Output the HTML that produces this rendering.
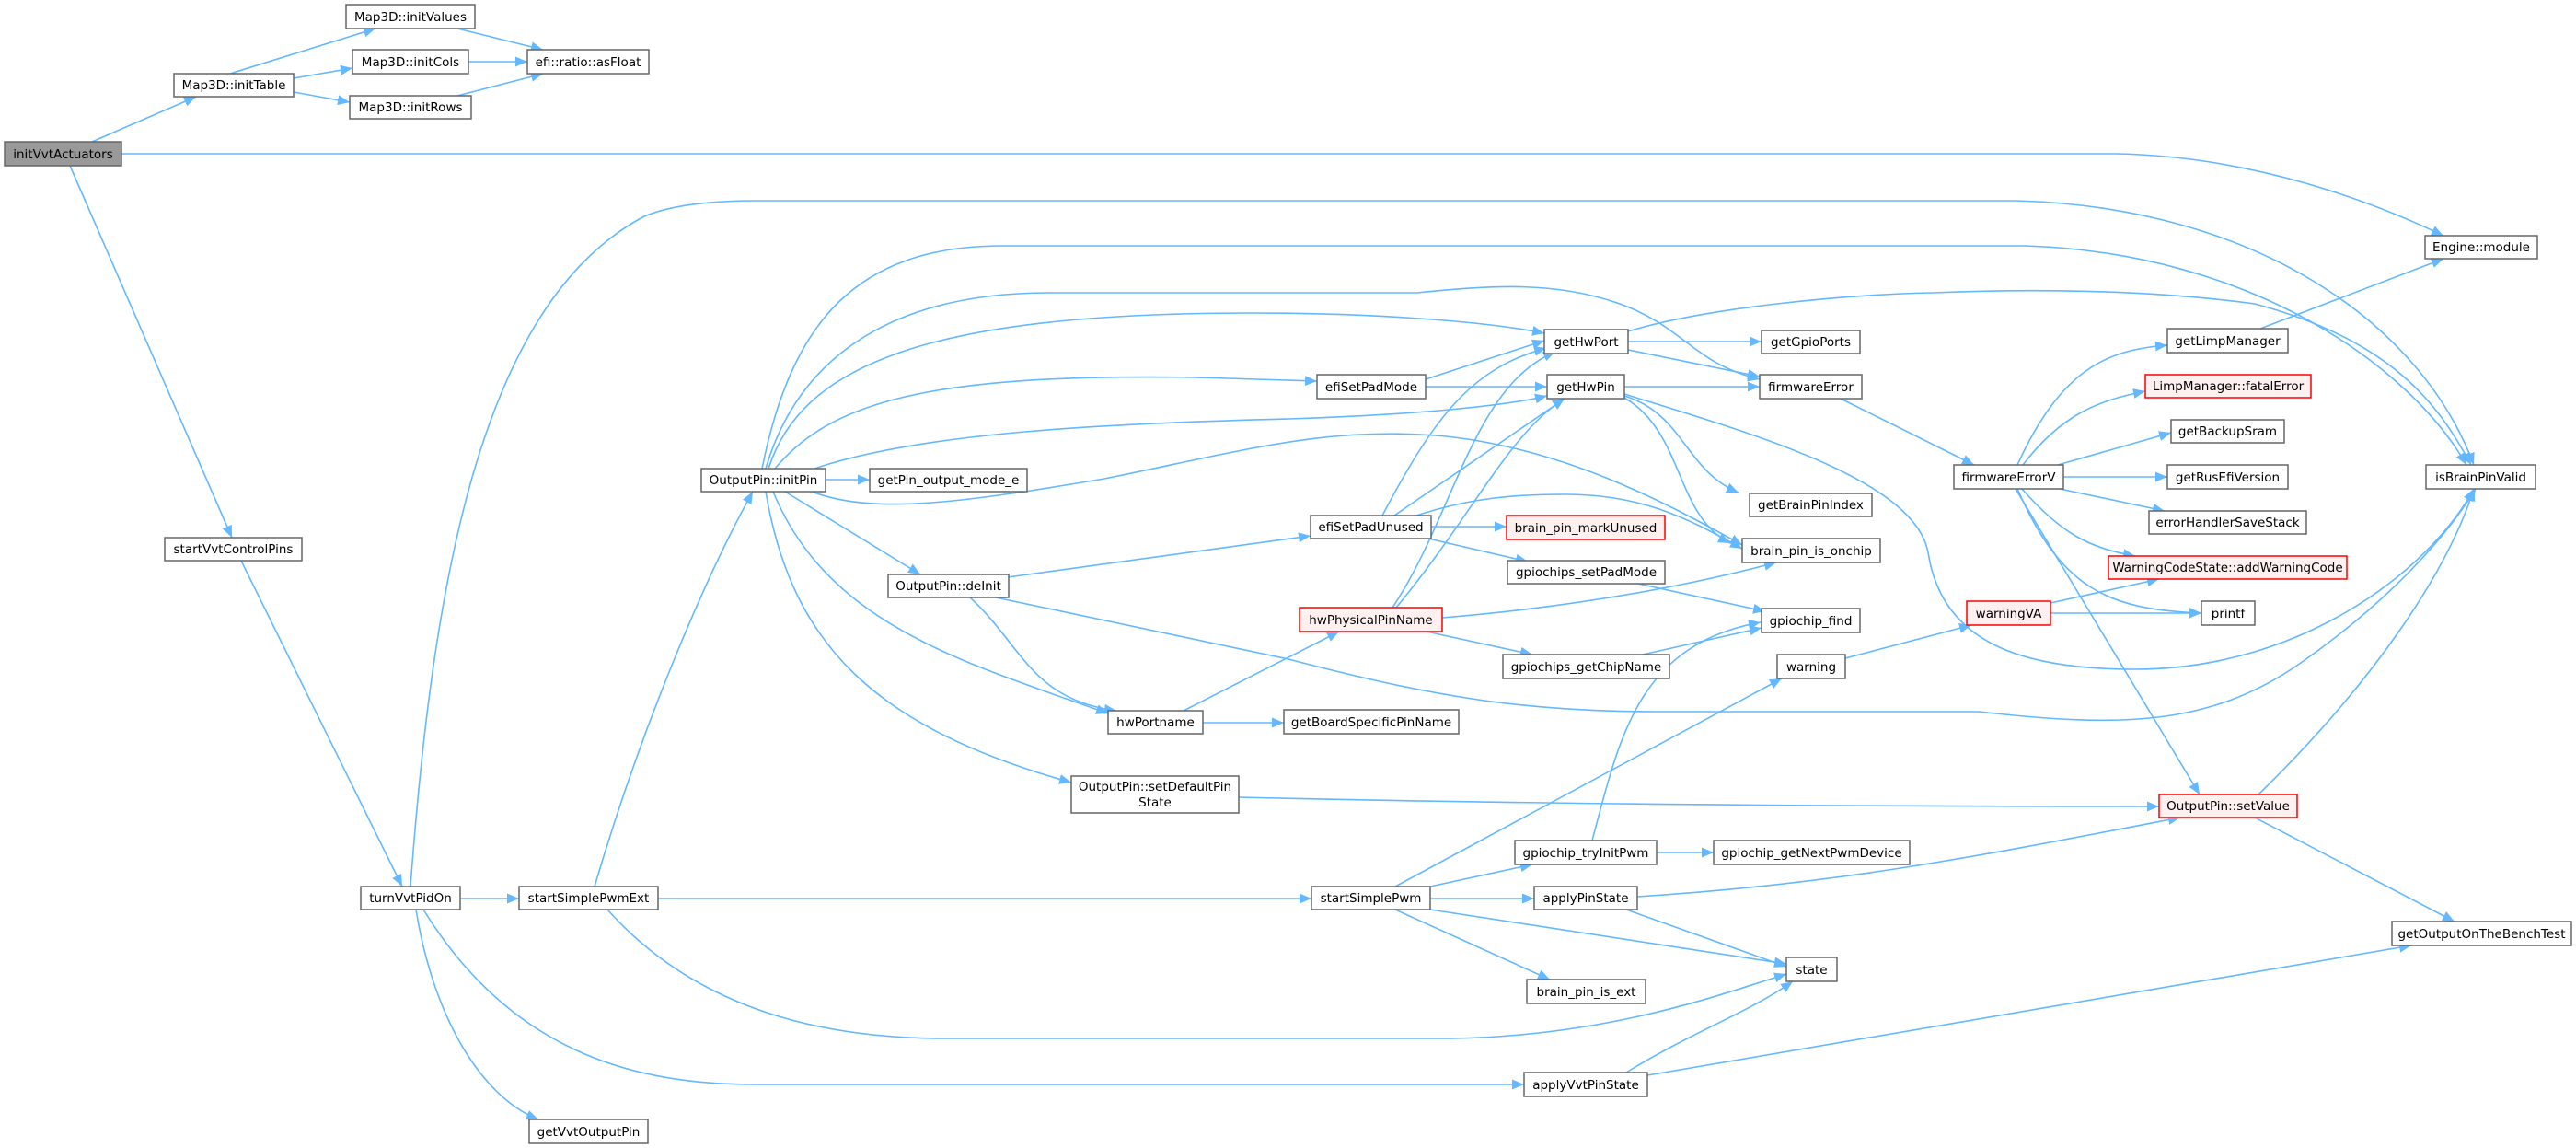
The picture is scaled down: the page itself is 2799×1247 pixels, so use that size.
<!DOCTYPE html>
<html><head><meta charset="utf-8"><style>
html,body{margin:0;padding:0;background:#fff;}
svg{display:block;}
text{font-family:"DejaVu Sans","Liberation Sans",sans-serif;font-size:13.5px;fill:#000;}
.n{fill:#fff;stroke:#666;stroke-width:1.5;}
.r{fill:#fff0f0;stroke:#f00;stroke-width:1.5;}
.g{fill:#999;stroke:#666;stroke-width:1.5;}
.e{fill:none;stroke:#63b8ff;stroke-width:1.6;}
</style></head><body>
<svg width="2799" height="1247" viewBox="0 0 2799 1247" xmlns="http://www.w3.org/2000/svg">
<defs><marker id="a" markerUnits="userSpaceOnUse" markerWidth="14" markerHeight="12" refX="13" refY="5.5" orient="auto"><path d="M0,0 L13,5.5 L0,11 z" fill="#63b8ff"/></marker></defs>
<g marker-end="url(#a)">
<path class="e" d="M100,154 L213,105"/>
<path class="e" d="M132,167 L2300,167 C2450,170 2580,220 2655,256"/>
<path class="e" d="M76,180 L252,584"/>
<path class="e" d="M250,80 L408,31"/>
<path class="e" d="M319,85 L383,74"/>
<path class="e" d="M319,100 L380,111"/>
<path class="e" d="M497,31 L590,54"/>
<path class="e" d="M509,67 L573,67"/>
<path class="e" d="M497,104 L590,80"/>
<path class="e" d="M262,609 L437,963"/>
<path class="e" d="M446,963 C470,640 520,330 700,235 Q740,218 823,218 L2190,218 C2450,225 2630,350 2688,505"/>
<path class="e" d="M500,976 L564,976"/>
<path class="e" d="M452,988 C470,1100 520,1190 585,1216"/>
<path class="e" d="M460,988 C560,1150 700,1178 821,1178 L1656,1178"/>
<path class="e" d="M715,976 L1425,976"/>
<path class="e" d="M660,988 C760,1100 900,1128 1027,1128 L1578,1128 C1750,1125 1870,1080 1941,1058"/>
<path class="e" d="M646,963 C700,780 770,620 818,534"/>
<path class="e" d="M897,521 L945,521"/>
<path class="e" d="M853,534 L1000,624"/>
<path class="e" d="M840,534 C900,680 1050,720 1204,775"/>
<path class="e" d="M832,534 C860,700 950,790 1164,850"/>
<path class="e" d="M842,509 C900,440 1000,405 1300,410 L1431,414"/>
<path class="e" d="M835,509 C870,400 1000,340 1360,340 C1500,340 1620,350 1678,362"/>
<path class="e" d="M832,509 C870,380 980,318 1140,318 L1540,318 C1620,310 1690,305 1760,330 C1830,355 1840,395 1912,412"/>
<path class="e" d="M828,509 C860,350 930,267 1090,267 L2200,267 C2450,275 2620,400 2680,505"/>
<path class="e" d="M885,509 C1000,470 1200,460 1400,455 C1550,450 1640,440 1681,430"/>
<path class="e" d="M882,534 C950,560 1050,545 1200,520 C1350,490 1450,460 1580,475 C1700,490 1800,540 1893,592"/>
<path class="e" d="M1095,627 L1424,582"/>
<path class="e" d="M1054,649 C1110,700 1120,760 1213,772"/>
<path class="e" d="M1082,649 L1400,716 C1550,755 1650,773 1800,773 L2150,773 C2300,790 2400,790 2500,720 C2600,650 2660,580 2690,531"/>
<path class="e" d="M1286,772 L1455,686"/>
<path class="e" d="M1307,785 L1395,785"/>
<path class="e" d="M1346,866 C1600,872 1900,876 2346,876"/>
<path class="e" d="M1549,412 L1678,370"/>
<path class="e" d="M1549,420 L1681,420"/>
<path class="e" d="M1502,560 C1560,450 1600,400 1680,378"/>
<path class="e" d="M1515,560 L1700,433"/>
<path class="e" d="M1555,572 L1637,572"/>
<path class="e" d="M1552,585 L1660,610"/>
<path class="e" d="M1539,560 C1600,540 1650,537 1700,537 C1780,537 1830,560 1893,596"/>
<path class="e" d="M1513,660 C1580,560 1600,420 1690,382"/>
<path class="e" d="M1517,660 C1600,560 1640,470 1700,433"/>
<path class="e" d="M1567,671 C1700,660 1820,640 1930,611"/>
<path class="e" d="M1550,686 L1665,711"/>
<path class="e" d="M1516,963 L1936,737"/>
<path class="e" d="M1554,963 L1665,939"/>
<path class="e" d="M1554,976 L1667,976"/>
<path class="e" d="M1554,988 L1941,1047"/>
<path class="e" d="M1516,988 L1684,1064"/>
<path class="e" d="M1769,371 L1914,371"/>
<path class="e" d="M1769,380 L1912,409"/>
<path class="e" d="M1769,360 C1850,335 2000,320 2100,318 Q2300,310 2450,330 C2600,370 2650,440 2685,505"/>
<path class="e" d="M1765,420 L1912,420"/>
<path class="e" d="M1765,430 C1830,450 1830,510 1889,535"/>
<path class="e" d="M1765,432 C1830,470 1820,560 1880,590"/>
<path class="e" d="M1765,428 C1900,470 2080,520 2095,600 C2110,700 2200,727 2320,727 C2500,727 2640,620 2688,531"/>
<path class="e" d="M1780,634 L1918,664"/>
<path class="e" d="M1785,711 L1914,682"/>
<path class="e" d="M1730,913 C1760,800 1780,700 1913,676"/>
<path class="e" d="M1800,926 L1862,926"/>
<path class="e" d="M1779,974 C2000,960 2150,930 2369,888"/>
<path class="e" d="M1767,988 L1941,1050"/>
<path class="e" d="M1767,1165 C1840,1120 1900,1100 1948,1066"/>
<path class="e" d="M1790,1168 L2620,1027"/>
<path class="e" d="M2000,433 L2145,505"/>
<path class="e" d="M2005,715 L2142,679"/>
<path class="e" d="M2192,505 C2240,400 2290,380 2355,375"/>
<path class="e" d="M2198,505 C2240,450 2280,435 2331,425"/>
<path class="e" d="M2236,505 L2359,470"/>
<path class="e" d="M2242,518 L2355,518"/>
<path class="e" d="M2238,531 L2352,555"/>
<path class="e" d="M2197,531 C2240,580 2270,595 2320,604"/>
<path class="e" d="M2192,531 C2240,640 2290,662 2392,666"/>
<path class="e" d="M2190,531 L2390,863"/>
<path class="e" d="M2228,655 L2346,629"/>
<path class="e" d="M2228,666 L2392,666"/>
<path class="e" d="M2456,357 L2655,281"/>
<path class="e" d="M2454,863 C2580,740 2660,620 2688,531"/>
<path class="e" d="M2450,888 L2667,1001"/>
</g>
<g>
<rect class="g" x="5" y="154" width="127" height="26"/><text x="68.5" y="172" text-anchor="middle">initVvtActuators</text>
<rect class="n" x="189" y="80" width="130" height="25"/><text x="254" y="97" text-anchor="middle">Map3D::initTable</text>
<rect class="n" x="376" y="5" width="140" height="26"/><text x="446" y="23" text-anchor="middle">Map3D::initValues</text>
<rect class="n" x="383" y="54" width="126" height="26"/><text x="446" y="72" text-anchor="middle">Map3D::initCols</text>
<rect class="n" x="380" y="104" width="132" height="25"/><text x="446" y="121" text-anchor="middle">Map3D::initRows</text>
<rect class="n" x="573" y="54" width="132" height="26"/><text x="639" y="72" text-anchor="middle">efi::ratio::asFloat</text>
<rect class="n" x="2635" y="256" width="122" height="25"/><text x="2696" y="273" text-anchor="middle">Engine::module</text>
<rect class="n" x="179" y="584" width="149" height="25"/><text x="253.5" y="601" text-anchor="middle">startVvtControlPins</text>
<rect class="n" x="392" y="963" width="108" height="25"/><text x="446" y="980" text-anchor="middle">turnVvtPidOn</text>
<rect class="n" x="564" y="963" width="151" height="25"/><text x="639.5" y="980" text-anchor="middle">startSimplePwmExt</text>
<rect class="n" x="575" y="1216" width="129" height="26"/><text x="639.5" y="1234" text-anchor="middle">getVvtOutputPin</text>
<rect class="n" x="762" y="509" width="135" height="25"/><text x="829.5" y="526" text-anchor="middle">OutputPin::initPin</text>
<rect class="n" x="945" y="509" width="171" height="25"/><text x="1030.5" y="526" text-anchor="middle">getPin_output_mode_e</text>
<rect class="n" x="965" y="624" width="131" height="25"/><text x="1030.5" y="641" text-anchor="middle">OutputPin::deInit</text>
<rect class="n" x="1204" y="772" width="103" height="25"/><text x="1255.5" y="789" text-anchor="middle">hwPortname</text>
<rect class="n" x="1164" y="843" width="182" height="40"/><text x="1255" y="859" text-anchor="middle">OutputPin::setDefaultPin</text><text x="1255" y="876" text-anchor="middle">State</text>
<rect class="n" x="1431" y="407" width="118" height="26"/><text x="1490" y="425" text-anchor="middle">efiSetPadMode</text>
<rect class="n" x="1424" y="560" width="131" height="25"/><text x="1489.5" y="577" text-anchor="middle">efiSetPadUnused</text>
<rect class="r" x="1412" y="660" width="155" height="26"/><text x="1489.5" y="678" text-anchor="middle">hwPhysicalPinName</text>
<rect class="n" x="1395" y="771" width="190" height="26"/><text x="1490" y="789" text-anchor="middle">getBoardSpecificPinName</text>
<rect class="n" x="1425" y="963" width="129" height="25"/><text x="1489.5" y="980" text-anchor="middle">startSimplePwm</text>
<rect class="n" x="1678" y="358" width="91" height="26"/><text x="1723.5" y="376" text-anchor="middle">getHwPort</text>
<rect class="n" x="1681" y="407" width="84" height="26"/><text x="1723" y="425" text-anchor="middle">getHwPin</text>
<rect class="r" x="1637" y="560" width="172" height="26"/><text x="1723" y="578" text-anchor="middle">brain_pin_markUnused</text>
<rect class="n" x="1638" y="609" width="171" height="25"/><text x="1723.5" y="626" text-anchor="middle">gpiochips_setPadMode</text>
<rect class="n" x="1633" y="711" width="181" height="26"/><text x="1723.5" y="729" text-anchor="middle">gpiochips_getChipName</text>
<rect class="n" x="1646" y="913" width="154" height="26"/><text x="1723" y="931" text-anchor="middle">gpiochip_tryInitPwm</text>
<rect class="n" x="1667" y="963" width="112" height="25"/><text x="1723" y="980" text-anchor="middle">applyPinState</text>
<rect class="n" x="1659" y="1064" width="129" height="26"/><text x="1723.5" y="1082" text-anchor="middle">brain_pin_is_ext</text>
<rect class="n" x="1656" y="1165" width="134" height="26"/><text x="1723" y="1183" text-anchor="middle">applyVvtPinState</text>
<rect class="n" x="1914" y="359" width="107" height="25"/><text x="1967.5" y="376" text-anchor="middle">getGpioPorts</text>
<rect class="n" x="1912" y="407" width="111" height="26"/><text x="1967.5" y="425" text-anchor="middle">firmwareError</text>
<rect class="n" x="1901" y="536" width="133" height="25"/><text x="1967.5" y="553" text-anchor="middle">getBrainPinIndex</text>
<rect class="n" x="1893" y="585" width="150" height="26"/><text x="1968" y="603" text-anchor="middle">brain_pin_is_onchip</text>
<rect class="n" x="1914" y="661" width="107" height="26"/><text x="1967.5" y="679" text-anchor="middle">gpiochip_find</text>
<rect class="n" x="1931" y="711" width="74" height="26"/><text x="1968" y="729" text-anchor="middle">warning</text>
<rect class="n" x="1862" y="913" width="213" height="26"/><text x="1968.5" y="931" text-anchor="middle">gpiochip_getNextPwmDevice</text>
<rect class="n" x="1941" y="1040" width="55" height="26"/><text x="1968.5" y="1058" text-anchor="middle">state</text>
<rect class="n" x="2123" y="505" width="119" height="26"/><text x="2182.5" y="523" text-anchor="middle">firmwareErrorV</text>
<rect class="r" x="2137" y="653" width="91" height="26"/><text x="2182.5" y="671" text-anchor="middle">warningVA</text>
<rect class="n" x="2355" y="357" width="131" height="26"/><text x="2420.5" y="375" text-anchor="middle">getLimpManager</text>
<rect class="r" x="2331" y="407" width="180" height="25"/><text x="2421" y="424" text-anchor="middle">LimpManager::fatalError</text>
<rect class="n" x="2359" y="456" width="123" height="25"/><text x="2420.5" y="473" text-anchor="middle">getBackupSram</text>
<rect class="n" x="2355" y="505" width="131" height="26"/><text x="2420.5" y="523" text-anchor="middle">getRusEfiVersion</text>
<rect class="n" x="2335" y="555" width="171" height="25"/><text x="2420.5" y="572" text-anchor="middle">errorHandlerSaveStack</text>
<rect class="r" x="2291" y="604" width="259" height="25"/><text x="2420.5" y="621" text-anchor="middle">WarningCodeState::addWarningCode</text>
<rect class="n" x="2392" y="653" width="58" height="26"/><text x="2421" y="671" text-anchor="middle">printf</text>
<rect class="r" x="2346" y="863" width="150" height="25"/><text x="2421" y="880" text-anchor="middle">OutputPin::setValue</text>
<rect class="n" x="2636" y="505" width="119" height="26"/><text x="2695.5" y="523" text-anchor="middle">isBrainPinValid</text>
<rect class="n" x="2599" y="1001" width="195" height="26"/><text x="2696.5" y="1019" text-anchor="middle">getOutputOnTheBenchTest</text>
</g>
</svg>
</body></html>
